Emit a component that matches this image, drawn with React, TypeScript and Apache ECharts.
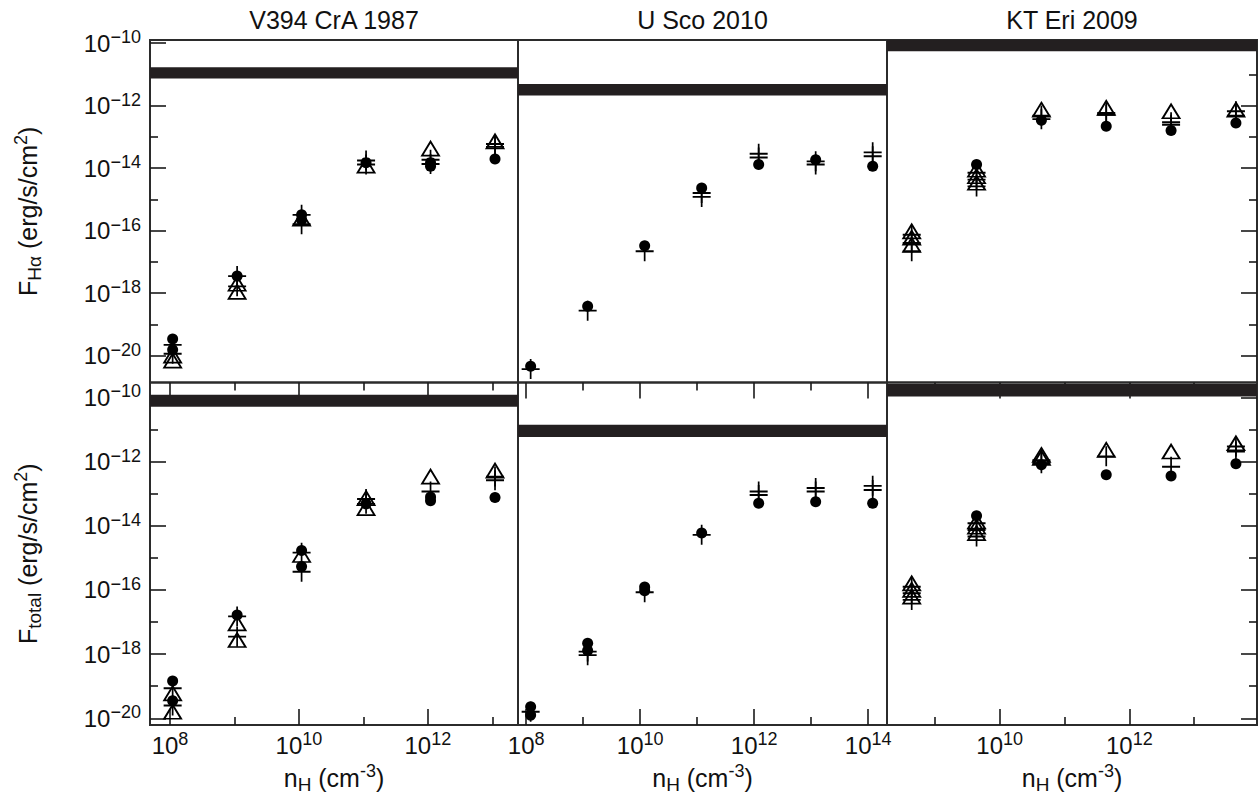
import React, { useEffect, useRef } from "react";
import * as echarts from "echarts";

const FONT = "'Liberation Sans', Arial, Helvetica, sans-serif";
const INK = "#111";

// Panel titles (columns)
const panelTitles = ["V394 CrA 1987", "U Sco 2010", "KT Eri 2009"];

// Model densities n_H (cm^-3) per column
const densV394 = [1.1e8, 1.1e9, 1.1e10, 1.1e11, 1.1e12, 1.1e13];
const densUSco = [1.2e8, 1.2e9, 1.2e10, 1.2e11, 1.2e12, 1.2e13, 1.2e14];
const densKTEri = [4.4e8, 4.4e9, 4.4e10, 4.4e11, 4.4e12, 4.4e13];

// ---- Top row: F_Halpha (erg/s/cm^2); one list of values per density ----
const haCircV394 = [[3.4e-20, 1.55e-20], [3.5e-18], [3.2e-16, 2.2e-16], [1.5e-14], [1.15e-14, 1.5e-14], [1.95e-14]];
const haTriV394 = [[1.0e-20, 6.9e-21], [2.0e-18, 1.1e-18], [2.4e-16], [1.2e-14], [4.2e-14], [7.2e-14]];
const haPlusV394 = [[2.2e-20, 1.15e-20], [3.5e-18, 1.65e-18], [3.2e-16, 1.6e-16], [1.75e-14, 1.3e-14], [1.85e-14, 1.35e-14], [5.9e-14, 4.8e-14]];

const haCircUSco = [[4.6e-21], [3.8e-19], [3.3e-17], [2.3e-15], [1.3e-14], [1.85e-14], [1.15e-14]];
const haTriUSco: number[][] = [];
const haPlusUSco = [[3.7e-21], [2.75e-19], [2.2e-17], [1.6e-15, 1.2e-15], [2.9e-14, 2.2e-14], [1.65e-14, 1.3e-14], [3.2e-14, 2.4e-14]];

const haCircKTEri = [[], [1.3e-14], [3.4e-13], [2.2e-13], [1.6e-13], [2.8e-13]];
const haTriKTEri = [[9.5e-17, 5.9e-17, 3.5e-17], [8.9e-15, 5.5e-15, 3.4e-15], [7.4e-13], [8.5e-13], [6.6e-13], [7.4e-13]];
const haPlusKTEri = [[7.4e-17, 4.0e-17, 2.2e-17], [7.1e-15, 4.3e-15, 2.6e-15], [4.8e-13, 3.7e-13], [5.8e-13, 5.1e-13], [2.95e-13, 2.45e-13], [6.6e-13, 4.8e-13]];

// ---- Bottom row: F_total (erg/s/cm^2) ----
const totCircV394 = [[1.45e-19, 3.55e-20], [1.65e-17], [1.7e-15, 5.4e-16], [4.8e-14], [7.8e-14, 6.0e-14], [7.6e-14]];
const totTriV394 = [[6.0e-20, 1.6e-20], [9.1e-18, 2.75e-18], [1.23e-15], [7.2e-14, 3.55e-14], [3.4e-13], [5.2e-13]];
const totPlusV394 = [[8.7e-20, 2.5e-20], [1.5e-17, 3.5e-18], [1.45e-15, 3.7e-16], [6.8e-14, 4.8e-14], [1.17e-13], [3.4e-13, 2.6e-13]];

const totCircUSco = [[2.3e-20, 1.26e-20], [2.2e-18, 1.3e-18], [1.23e-16, 9.5e-17], [5.9e-15], [5.0e-14], [5.6e-14], [5.0e-14]];
const totTriUSco: number[][] = [];
const totPlusUSco = [[1.6e-20], [1.2e-18, 9.3e-19], [8.5e-17], [5.2e-15], [1.17e-13, 9.1e-14], [1.5e-13, 1.17e-13], [1.75e-13, 1.3e-13]];

const totCircKTEri = [[], [2.05e-14], [7.9e-13], [3.9e-13], [3.55e-13], [8.5e-13]];
const totTriKTEri = [[1.6e-16, 1.0e-16, 6.2e-17], [1.35e-14, 9.3e-15, 5.9e-15], [1.6e-12, 1.3e-12], [2.3e-12], [2.05e-12], [3.7e-12]];
const totPlusKTEri = [[1.26e-16, 7.9e-17, 4.9e-17], [1.2e-14, 7.4e-15, 4.6e-15], [1.1e-12, 8.9e-13], [1.45e-12], [6.9e-13], [2.95e-12, 2.05e-12]];

// Observed flux bands [low, high]
const haBands = [[7.4e-12, 1.7e-11], [2.1e-12, 4.9e-12], [5.5e-11, 1.26e-10]];
const totBands = [[5.1e-11, 1.2e-10], [5.8e-12, 1.4e-11], [1.07e-10, 2.6e-10]];

// Axis ranges and ticks
const xRanges = [[4.9e7, 2.5e13], [7.2e7, 2.14e14], [1.83e8, 9.3e13]];
const xMajorTicks = [[1e8, 1e10, 1e12], [1e8, 1e10, 1e12, 1e14], [1e10, 1e12]];
const xMinorTicks = [[1e9, 1e11, 1e13], [1e9, 1e11, 1e13], [1e9, 1e11, 1e13]];
const yRanges = [[1.38e-21, 1.26e-10], [6.2e-21, 2.9e-10]];
const yMajorTicks = [1e-20, 1e-18, 1e-16, 1e-14, 1e-12, 1e-10];
const yMinorTicks = [1e-19, 1e-17, 1e-15, 1e-13, 1e-11];

const xName = "{b|n}{s|H}{b| (cm}{p|-3}{b|)}";
const yNames = ["{b|F}{s|H\u03b1}{b| (erg/s/cm}{p|2}{b|)}", "{b|F}{s|total}{b| (erg/s/cm}{p|2}{b|)}"];

const densities = [densV394, densUSco, densKTEri];
const circles = [[haCircV394, haCircUSco, haCircKTEri], [totCircV394, totCircUSco, totCircKTEri]];
const triangles = [[haTriV394, haTriUSco, haTriKTEri], [totTriV394, totTriUSco, totTriKTEri]];
const pluses = [[haPlusV394, haPlusUSco, haPlusKTEri], [totPlusV394, totPlusUSco, totPlusKTEri]];
const bands = [haBands, totBands];

// Layout (pixels)
const colLeft = [150, 518, 887];
const colWidth = [368, 369, 370];
const rowTop = [40, 382.5];
const rowHeight = 342.5;

const labelRich = {
  b: { fontSize: 24, fontFamily: FONT, color: INK, lineHeight: 30 },
  p: { fontSize: 18, fontFamily: FONT, color: INK, lineHeight: 17, verticalAlign: "top" },
};
const xNameRich = {
  b: { fontSize: 25, fontFamily: FONT, color: INK, lineHeight: 32 },
  s: { fontSize: 19, fontFamily: FONT, color: INK, lineHeight: 15, verticalAlign: "bottom" },
  p: { fontSize: 18, fontFamily: FONT, color: INK, lineHeight: 17, verticalAlign: "top" },
};
const yNameRich = {
  b: { fontSize: 25, fontFamily: FONT, color: INK, lineHeight: 32 },
  s: { fontSize: 19, fontFamily: FONT, color: INK, lineHeight: 15, verticalAlign: "bottom" },
  p: { fontSize: 18, fontFamily: FONT, color: INK, lineHeight: 17, verticalAlign: "top" },
};

function powLabel(v: number) {
  const e = Math.round(Math.log10(v));
  const s = e < 0 ? "\u2212" + Math.abs(e) : String(e);
  return `{b|10}{p|${s}}`;
}

function pts(dens: number[], vals: number[][]) {
  const out: number[][] = [];
  dens.forEach((x, i) => (vals[i] || []).forEach((v) => out.push([x, v])));
  return out;
}

function buildOption() {
  const grid: any[] = [];
  const xAxis: any[] = [];
  const yAxis: any[] = [];
  const series: any[] = [];
  const tickStyle = { color: "#1a1a1a", width: 1.6 };

  for (let r = 0; r < 2; r++) {
    for (let c = 0; c < 3; c++) {
      const g = r * 3 + c;
      const isBottom = r === 1;
      grid.push({
        left: colLeft[c], top: rowTop[r], width: colWidth[c], height: rowHeight,
        show: true, borderColor: "#2b2b2b", borderWidth: 2, backgroundColor: "transparent",
      });
      const xBase = {
        type: "log", logBase: 10, gridIndex: g, position: isBottom ? "bottom" : "top",
        min: xRanges[c][0], max: xRanges[c][1],
        axisLine: { show: false }, splitLine: { show: false }, minorTick: { show: false },
      };
      xAxis.push({
        ...xBase,
        axisTick: { show: true, inside: true, length: 16, customValues: xMajorTicks[c], lineStyle: tickStyle },
        axisLabel: { show: isBottom, customValues: xMajorTicks[c], formatter: powLabel, rich: labelRich, margin: 5, hideOverlap: false },
        name: isBottom ? xName : "", nameLocation: "middle", nameGap: 37,
        nameTextStyle: { rich: xNameRich },
      });
      xAxis.push({
        ...xBase,
        axisTick: { show: true, inside: true, length: 8, customValues: xMinorTicks[c], lineStyle: tickStyle },
        axisLabel: { show: false },
      });
      const showY = c !== 1;
      const yBase = {
        type: "log", logBase: 10, gridIndex: g, position: c === 2 ? "right" : "left",
        min: yRanges[r][0], max: yRanges[r][1],
        axisLine: { show: false }, splitLine: { show: false }, minorTick: { show: false },
      };
      yAxis.push({
        ...yBase,
        axisTick: { show: showY, inside: true, length: 16, customValues: yMajorTicks, lineStyle: tickStyle },
        axisLabel: { show: c === 0, customValues: yMajorTicks, formatter: powLabel, rich: labelRich, margin: 9, hideOverlap: false },
        name: c === 0 ? yNames[r] : "", nameLocation: "middle", nameRotate: 90, nameGap: 106,
        nameTextStyle: { rich: yNameRich },
      });
      yAxis.push({
        ...yBase,
        axisTick: { show: showY, inside: true, length: 8, customValues: yMinorTicks, lineStyle: tickStyle },
        axisLabel: { show: false },
      });

      const dens = densities[c];
      const common = { type: "scatter", xAxisIndex: 2 * g, yAxisIndex: 2 * g, silent: true };
      series.push({
        ...common, name: "circle", symbol: "circle", symbolSize: 11,
        itemStyle: { color: "#000", opacity: 1 },
        data: pts(dens, circles[r][c]),
        markArea: {
          silent: true,
          itemStyle: { color: "#231f20", opacity: 1 },
          data: [[{ yAxis: bands[r][c][0] }, { yAxis: bands[r][c][1] }]],
        },
      });
      series.push({
        ...common, name: "triangle", symbol: "triangle", symbolSize: [17, 14],
        itemStyle: { color: "rgba(0,0,0,0)", borderColor: "#000", borderWidth: 1.8, opacity: 1 },
        data: pts(dens, triangles[r][c]),
      });
      series.push({
        ...common, name: "plus", symbol: "path://M10 0 L10 20 M0 10 L20 10", symbolSize: [18, 20],
        itemStyle: { color: "rgba(0,0,0,0)", borderColor: "#000", borderWidth: 1.8, opacity: 1 },
        data: pts(dens, pluses[r][c]),
      });
    }
  }

  const title = panelTitles.map((t, c) => ({
    text: t, left: colLeft[c] + colWidth[c] / 2, top: 7, textAlign: "center", padding: 0,
    textStyle: { fontFamily: FONT, fontSize: 25, fontWeight: "normal", color: INK },
  }));

  return { animation: false, backgroundColor: "#fff", title, grid, xAxis, yAxis, series };
}

export default function App() {
  const ref = useRef<HTMLDivElement>(null);
  useEffect(() => {
    const chart = echarts.init(ref.current!, undefined, { renderer: "svg" });
    chart.setOption(buildOption() as any);
    return () => chart.dispose();
  }, []);
  return (
    <div
      ref={ref}
      style={{ position: "absolute", left: 0, top: 0, width: 1260, height: 803, background: "#fff" }}
    />
  );
}
